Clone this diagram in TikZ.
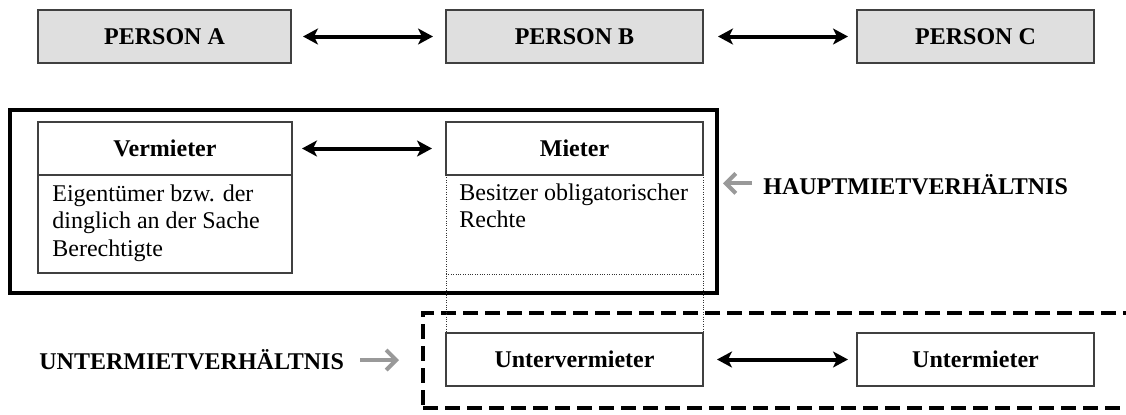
\documentclass[tikz,border=0pt]{standalone}
\usepackage{fontspec}
\setmainfont{Liberation Serif}
\usetikzlibrary{arrows.meta}
\tikzset{
  txt/.style={font=\fontsize{12}{13.75}\selectfont},
  boldtxt/.style={font=\fontsize{12}{13.75}\selectfont\bfseries},
  personbox/.style={draw=black!75, line width=0.6pt, fill=gray!25, minimum height=26.5pt, inner sep=0pt, outer sep=0pt, boldtxt},
  rolebox/.style={draw=black!75, line width=0.6pt, minimum height=26.5pt, inner sep=0pt, outer sep=0pt, boldtxt},
  bodybox/.style={draw=black!75, line width=0.6pt, inner sep=0pt, outer sep=0pt},
  bodytext/.style={inner sep=0pt, anchor=north west, align=left, txt},
  dblarrow/.style={{Stealth[length=7.5pt,width=8pt,inset=2pt]}-{Stealth[length=7.5pt,width=8pt,inset=2pt]}, line width=2pt},
  grayarrow/.style={-{Straight Barb[length=5pt,width=10pt]}, line width=2pt, draw=black!40},
  frame/.style={draw, line width=2.3pt, inner sep=0pt, outer sep=0pt},
  dashframe/.style={draw, line width=2.2pt, dash pattern=on 7.5pt off 3.5pt, inner sep=0pt, outer sep=0pt},
  dotline/.style={dash pattern=on 0.4pt off 0.8pt, line width=0.45pt, draw=black!80},
  sidelabel/.style={inner sep=0pt, boldtxt}
}
\begin{document}
\begin{tikzpicture}[x=0.5pt,y=-0.5pt]
\clip (0,0) rectangle (1126,414);
\fill[white] (0,0) rectangle (1126,414);

% top row
\node[personbox, minimum width=126.5pt] (pa) at (164.5,36.5) {PERSON A};
\node[personbox, minimum width=128.5pt] (pb) at (574.5,36.5) {PERSON B};
\node[personbox, minimum width=118.5pt] (pc) at (975.5,36.5) {PERSON C};
\draw[dblarrow, shorten <=6pt, shorten >=6.5pt] (pa) -- (pb);
\draw[dblarrow, shorten <=7.5pt, shorten >=4.5pt] (pb) -- (pc);

% main frame
\node[frame, minimum width=353.5pt, minimum height=91.5pt] (hbox) at (363.5,201.5) {};

% Vermieter
\node[rolebox, minimum width=127pt] (verm) at (165,148.5) {Vermieter};
\node[bodybox, minimum width=127pt, minimum height=49pt, anchor=north] (vbody) at (verm.south) {};
\node[bodytext] (vtext) at (52,184) {Eigentümer bzw. der\\dinglich an der Sache\\Berechtigte};

% Mieter
\node[rolebox, minimum width=128.5pt] (mie) at (574.5,148.5) {Mieter};
\node[bodytext] (mtext) at (459,183) {Besitzer obligatorischer\\Rechte};
\draw[dblarrow, shorten <=5pt, shorten >=7pt] (verm) -- (mie);

% sub frame
\node[dashframe, minimum width=358.5pt, minimum height=47.5pt] (ubox) at (781.5,360.5) {};
\node[rolebox, minimum width=128.5pt] (uverm) at (574.5,359.5) {Untervermieter};
\node[rolebox, minimum width=118.5pt] (umie) at (975.5,359.5) {Untermieter};
\draw[dblarrow, shorten <=7pt, shorten >=4.5pt] (uverm) -- (umie);

% dotted continuation of Mieter
\coordinate (mdiv) at (446,274);
\draw[dotline] (mie.south west) -- (uverm.north west);
\draw[dotline] (mie.south east) -- (uverm.north east);
\draw[dotline] (mdiv) -- (mdiv -| mie.east);

% side labels
\node[sidelabel, anchor=west] (hlabel) at (763,185) {HAUPTMIETVERHÄLTNIS};
\draw[grayarrow] ([xshift=-5.5pt,yshift=0.8pt]hlabel.west) -- ([xshift=3pt,yshift=0.8pt]hlabel.west -| hbox.east);
\node[sidelabel, anchor=west] (ulabel) at (39,360) {UNTERMIETVERHÄLTNIS};
\draw[grayarrow] ([xshift=8pt]ulabel.east) -- ([xshift=-12pt]ulabel.east -| ubox.west);
\end{tikzpicture}
\end{document}
